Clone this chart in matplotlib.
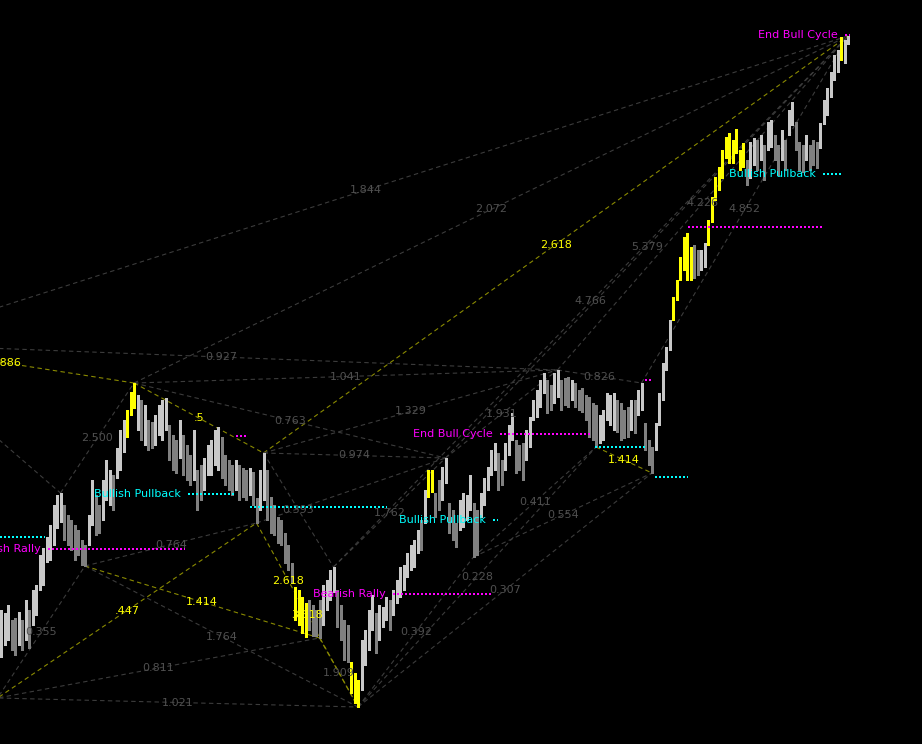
import numpy as np
import matplotlib
matplotlib.use("Agg")
import matplotlib.pyplot as plt

# bar highs / lows (price units), one entry per bar
highs = [134, 131, 139, 124, 126, 132, 124, 144, 134, 154,
         159, 189, 196, 207, 219, 239, 249, 251, 239, 229,
         224, 219, 214, 204, 199, 229, 264, 249, 239, 264,
         284, 274, 269, 296, 314, 324, 334, 352, 361, 349,
         344, 339, 324, 322, 329, 339, 344, 346, 319, 309,
         304, 324, 309, 299, 289, 314, 274, 279, 286, 299,
         304, 314, 317, 307, 289, 284, 279, 284, 279, 276,
         274, 276, 272, 246, 274, 291, 274, 247, 239, 227,
         224, 211, 199, 181, 157, 154, 147, 141, 144, 139,
         134, 144, 159, 164, 174, 177, 154, 139, 124, 119,
         82, 71, 64, 104, 114, 134, 149, 131, 139, 137,
         147, 144, 154, 164, 177, 179, 191, 199, 204, 214,
         224, 254, 274, 274, 251, 264, 277, 286, 241, 234,
         221, 244, 251, 249, 269, 241, 234, 251, 266, 277,
         294, 301, 291, 284, 301, 319, 331, 304, 299, 301,
         314, 327, 344, 354, 364, 371, 364, 359, 371, 374,
         364, 366, 367, 364, 361, 354, 356, 349, 347, 341,
         339, 329, 334, 351, 349, 351, 344, 341, 334, 337,
         344, 344, 354, 361, 321, 304, 297, 321, 351, 381,
         397, 424, 447, 464, 487, 507, 511, 497, 499, 494,
         494, 501, 524, 547, 567, 577, 594, 607, 611, 604,
         615, 594, 601, 584, 602, 606, 604, 609, 599, 622,
         624, 609, 599, 614, 604, 634, 642, 622, 602, 599,
         609, 599, 604, 602, 621, 644, 656, 672, 689, 694,
         707, 704, 708]
lows = [87, 99, 104, 94, 89, 99, 94, 104, 96, 119,
        129, 154, 159, 182, 184, 199, 216, 222, 204, 199,
        194, 184, 189, 179, 178, 199, 219, 209, 211, 224,
        244, 239, 234, 266, 274, 292, 307, 329, 336, 314,
        304, 299, 294, 296, 299, 309, 304, 314, 284, 274,
        271, 286, 269, 264, 259, 264, 234, 244, 254, 269,
        269, 279, 274, 266, 259, 254, 249, 254, 244, 247,
        244, 249, 239, 221, 234, 244, 224, 211, 209, 201,
        199, 181, 174, 161, 124, 119, 111, 107, 114, 108,
        108, 106, 119, 134, 144, 152, 117, 104, 84, 82,
        51, 41, 37, 54, 79, 94, 114, 91, 104, 117,
        124, 114, 129, 141, 147, 154, 167, 174, 177, 191,
        194, 221, 247, 252, 227, 234, 244, 261, 211, 204,
        197, 214, 217, 224, 234, 187, 189, 227, 239, 254,
        269, 274, 254, 259, 274, 289, 304, 271, 274, 264,
        284, 297, 324, 327, 337, 351, 331, 334, 341, 347,
        334, 339, 337, 344, 337, 334, 332, 324, 307, 304,
        297, 301, 304, 324, 319, 314, 312, 304, 306, 307,
        314, 311, 329, 334, 294, 279, 271, 294, 319, 344,
        374, 394, 424, 444, 464, 474, 464, 464, 466, 469,
        474, 477, 499, 522, 544, 554, 566, 586, 581, 581,
        591, 574, 577, 559, 566, 579, 574, 584, 564, 594,
        597, 584, 569, 584, 574, 609, 619, 594, 574, 572,
        584, 574, 579, 576, 596, 620, 629, 647, 664, 672,
        684, 681, 700]
# u = up bar, d = down bar, y = highlighted
bar_kind = ("uuuddududu" "uuuuuuuudd" "ddddduuddu" "uuduuuyyyu" "dudduuuudd"
            "dudddudduu" "uuuddddudd" "dudduudddd" "ddddyyyydd" "dduuuudddd"
            "yyyuuuuduu" "uduuuuuuuu" "duyydduudd" "duuuudduuu" "uudduuuddd"
            "uuuuuudduu" "dddudddddd" "duuuuudddd" "uduuddduuu" "uuyyyyyydd"
            "uuyyyyyyyy" "yyyduududu" "udduduuddd" "uddduuuuuu" "yuu")

# swing pivots: name -> bar index and side (or an off-chart point)
pivot_bar = {"P1": (24, "l"), "Pa": (17, "h"), "P2": (38, "h"), "P4": (75, "h"),
             "P5": (73, "l"), "P6": (91, "l"), "P7": (95, "h"), "P8": (102, "l"),
             "P9": (127, "h"), "P10": (135, "l"), "P11": (159, "h"), "P12": (170, "l"),
             "Pc": (183, "h"), "P13": (186, "l"), "P16": (242, "h")}
pivot_off = {"P0": (-1.0, 46), "Q": (-33.4, 400), "Pl": (-7.4, 325)}

# ratio lines: from, to, line kind, label
ratio_from = ["Q", "Q", "Q", "P2", "P4", "P9", "P7", "P11", "Pc", "P2", "P4", "P9",
              "P11", "P2", "P4", "P4", "P7", "Pa", "Pl", "P1", "P0", "P0", "P0", "P1",
              "P8", "P8", "P8", "P10", "P10", "P6", "P5", "P2", "P1", "P0", "P12", "P5"]
ratio_to = ["P2", "P11", "P16", "P16", "P16", "P16", "P16", "P16", "P16", "P11", "P11", "P11",
            "Pc", "P9", "P9", "P7", "P9", "P2", "Pa", "P5", "P1", "P6", "P8", "P8",
            "P10", "P12", "P13", "P12", "P13", "P8", "P8", "P4", "P6", "P5", "P13", "P9"]
ratio_kind = ["y", "g", "g", "g", "y", "g", "g", "g", "g", "g", "g", "g",
              "g", "g", "g", "g", "g", "g", "g", "g", "g", "g", "g", "g",
              "g", "g", "g", "g", "g", "y", "y", "y", "y", "y", "y", "g"]
ratio_label = [".886", "0.927", "1.844", "2.072", "2.618", "5.379", "4.766", "4.226",
               "4.852", "1.041", "1.329", "1.931", "0.826", "0.763", "0.974", "0.393",
               "1.762", "2.500", "", "0.764", "0.355", "0.811", "1.021", "1.764",
               "0.392", "0.228", "0.307", "0.411", "0.554", "1.909", "3.618", ".5",
               "1.414", ".447", "1.414", ""]
ratio_label_kind = ["y", "g", "g", "g", "y", "g", "g", "g", "g", "g", "g", "g",
                    "g", "g", "g", "g", "g", "g", "g", "g", "g", "g", "g", "g",
                    "g", "g", "g", "g", "g", "g", "y", "y", "y", "y", "y", "g"]
extra_label = "2.618"  # on the P5-P6 leg
extra_from, extra_to = "P5", "P6"

# signal levels
level_name = ["Bearish Rally", "Bullish Pullback", "End Bull Cycle", "Bullish Pullback",
              "Bearish Rally", "Bullish Pullback", "End Bull Cycle",
              "", "", "", "", "", "", ""]
level_kind = ["m", "c", "m", "c", "m", "c", "m", "c", "c", "m", "c", "c", "m", "m"]
level_price = [195, 250, 310, 224, 150, 570, 709, 207, 237, 308, 297, 267, 364, 517]
level_start = [13.4, 53.4, 142.6, 140.6, 112.0, 234.9, 241.1, -0.3, 71.1, 67.1,
               169.7, 186.9, 184.0, 196.3]
level_end = [52.6, 66.9, 168.9, 141.9, 140.3, 240.6, 242.6, 12.6, 110.3, 70.6,
             184.0, 196.3, 186.0, 234.6]

bar_colors = {"u": "#c8c8c8", "d": "#808080", "y": "#ffff00"}
line_colors = {"g": "#3c3c3c", "y": "#8a8a00"}
text_colors = {"g": "#505050", "y": "#ffff00"}
level_colors = {"m": "#ff00ff", "c": "#00ffff"}


def pivot(name):
    if name in pivot_off:
        return pivot_off[name]
    i, side = pivot_bar[name]
    return (i, highs[i] if side == "h" else lows[i])


fig = plt.figure(figsize=(9.22, 7.44), dpi=100, facecolor="black")
ax = fig.add_axes([0, 0, 1, 1])
ax.set_facecolor("black")
ax.set_xlim(-1 / 3.5, 921 / 3.5)
ax.set_ylim(0, 744)
ax.axis("off")

# ratio lines and their labels (label sits at the middle of each leg)
for a, b, k, lab, lk in zip(ratio_from, ratio_to, ratio_kind, ratio_label, ratio_label_kind):
    (x1, y1), (x2, y2) = pivot(a), pivot(b)
    ax.plot([x1, x2], [y1, y2], color=line_colors[k], lw=0.8,
            ls=(0, (4, 3)), zorder=1)
    if lab:
        ax.text((x1 + x2) / 2, (y1 + y2) / 2, lab, color=text_colors[lk],
                fontsize=8, ha="center", va="center", zorder=4)
(x1, y1), (x2, y2) = pivot(extra_from), pivot(extra_to)
ax.text((x1 + x2) / 2, (y1 + y2) / 2, extra_label, color=text_colors["y"],
        fontsize=8, ha="center", va="center", zorder=4)

# price bars
idx = np.arange(len(highs))
ax.vlines(idx, lows, highs, colors=[bar_colors[k] for k in bar_kind],
          lw=1.0, antialiased=False, zorder=2)

# signal levels
for name, k, p, s, e in zip(level_name, level_kind, level_price, level_start, level_end):
    ax.hlines(p, s, e, colors=level_colors[k], lw=1.2, ls=(0, (1, 1.3)),
              antialiased=False, zorder=3)
    if name:
        ax.annotate(name, (s, p), xytext=(-5, 0), textcoords="offset points",
                    color=level_colors[k], fontsize=8, ha="right", va="center",
                    zorder=4, annotation_clip=False)

fig.savefig("out.png", dpi=100, facecolor="black")
